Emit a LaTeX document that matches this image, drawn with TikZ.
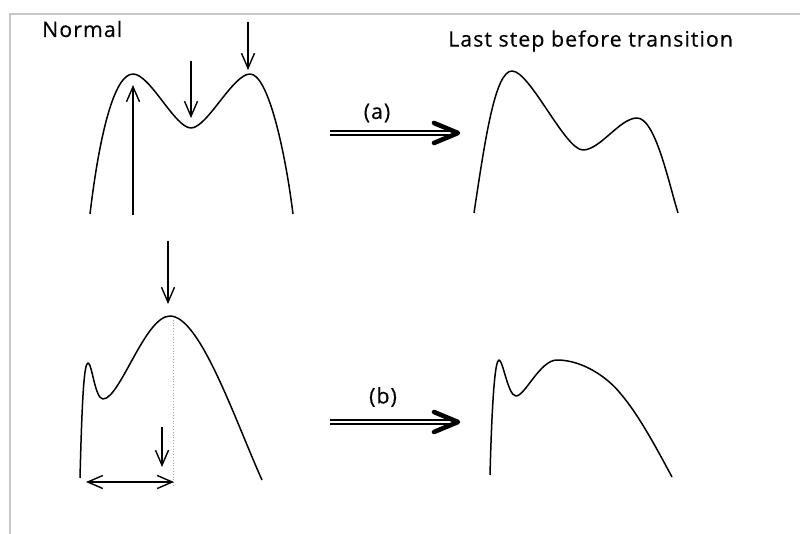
\documentclass[tikz,border=0pt]{standalone}
\usepackage{fontspec}
\setmainfont{Open Sans}[LetterSpace=5, FakeBold=0.4]
\usetikzlibrary{arrows.meta}
\definecolor{framegray}{RGB}{200,200,200}
\definecolor{dotgray}{RGB}{170,170,170}
\tikzset{
  curve/.style={line width=1.5pt, line join=round},
  pointer/.style={line width=1.4pt, -{Straight Barb[length=15pt,width=13pt,line width=1.4pt]}},
  twoway/.style={line width=1.4pt, {Straight Barb[length=15pt,width=13pt,line width=1.4pt]}-{Straight Barb[length=15pt,width=13pt,line width=1.4pt]}},
  dblshaft/.style={line width=1.5pt, double, double distance=2.3pt},
  dblhead/.style={line width=4.6pt, line cap=round, line join=round},
  lbl/.style={inner sep=0pt, font=\fontsize{21.3}{25}\selectfont},
  framel/.style={draw=framegray, line width=1.6pt}
}
\begin{document}
\begin{tikzpicture}[x=1pt,y=-1pt]
\useasboundingbox (0,0) rectangle (800,534);
\fill[white] (0,0) rectangle (800,534);
% frame
\draw[framel] (800,14) -- (10,14) -- (10,534);
% labels
\node[lbl, anchor=west] (normal) at (42,29) {Normal};
\node[lbl, anchor=west] (last) at (448,41) {Last step before transition};
\node[lbl] (la) at (377,113) {(a)};
\node[lbl] (lb) at (383,397) {(b)};
% curve 1 (top left)
\draw[curve] (90,214) .. controls (100,130) and (115,74) .. (133,74)
  .. controls (150,74) and (175,128) .. (191,128)
  .. controls (207,128) and (233,74) .. (250,74)
  .. controls (268,74) and (285,150) .. (293,214);
\coordinate (u1s) at (133,215); \coordinate (u1e) at (133,85);
\coordinate (d1s) at (191,61); \coordinate (d1e) at (191,118);
\coordinate (d2s) at (248,22); \coordinate (d2e) at (248,70);
\draw[pointer] (u1s) -- (u1e);
\draw[pointer] (d1s) -- (d1e);
\draw[pointer] (d2s) -- (d2e);
% arrow (a)
\coordinate (as) at (330,133); \coordinate (ae) at (452,133);
\draw[dblshaft] (as) -- (ae);
\draw[dblhead] (434,123) -- (458,133) -- (434,143);
% curve (a) right
\draw[curve] (474,213) .. controls (485,140) and (495,71) .. (512,71)
  .. controls (530,71) and (565,150) .. (583,150)
  .. controls (600,150) and (620,118) .. (637,118)
  .. controls (655,118) and (668,180) .. (678,213);
% curve bottom left
\draw[curve] (80,478) .. controls (82,400) and (84,363) .. (88,363)
  .. controls (92,363) and (95,399) .. (103,399)
  .. controls (120,399) and (145,316) .. (170,316)
  .. controls (200,316) and (235,420) .. (262,480);
\draw[dotgray, line width=0.8pt, dotted] (173.5,317) -- (173.5,487);
\coordinate (d3s) at (168,241); \coordinate (d3e) at (168,304);
\draw[pointer] (d3s) -- (d3e);
\coordinate (d4s) at (162,427); \coordinate (d4e) at (162,467);
\draw[pointer] (d4s) -- (d4e);
\coordinate (hl) at (86,482); \coordinate (hr) at (174,482);
\draw[twoway] (hl) -- (hr);
% arrow (b)
\coordinate (bs) at (330,422); \coordinate (be) at (452,422);
\draw[dblshaft] (bs) -- (be);
\draw[dblhead] (434,412) -- (458,422) -- (434,432);
% curve (b) right
\draw[curve] (490,475) .. controls (492,400) and (495,360) .. (499,360)
  .. controls (503,360) and (508,396) .. (516,396)
  .. controls (525,396) and (540,360) .. (557,360)
  .. controls (583,360) and (608,378) .. (620,393)
  .. controls (640,416) and (660,455) .. (672,477);
\end{tikzpicture}
\end{document}
